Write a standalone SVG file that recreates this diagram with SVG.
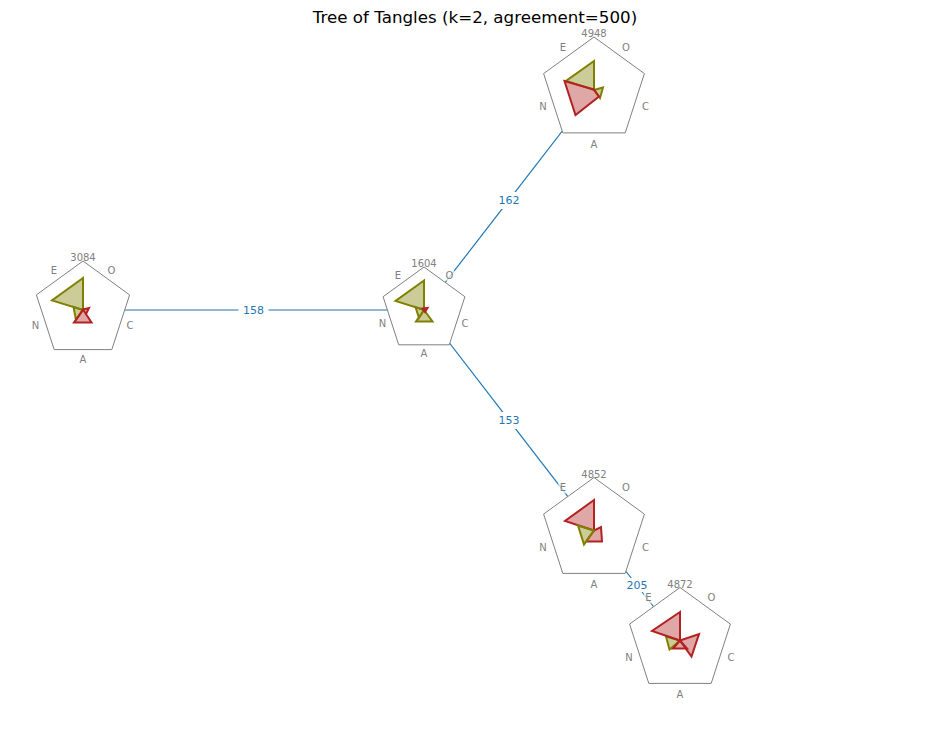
<svg xmlns="http://www.w3.org/2000/svg" width="950" height="733" viewBox="0 0 950 733">
<style>
  .title{font-family:"DejaVu Sans",sans-serif;font-size:16.7px;fill:#000;text-anchor:middle}
  .frame{fill:#fff;stroke:#808080;stroke-width:1}
  .lab{font-family:"DejaVu Sans",sans-serif;font-size:10px;fill:#808080;text-anchor:middle;dominant-baseline:central;stroke:#fff;stroke-opacity:0.7;stroke-width:5;stroke-linejoin:round;paint-order:stroke}
  .num{font-family:"DejaVu Sans",sans-serif;font-size:10px;fill:#808080;text-anchor:middle}
  .g{fill:#808000;fill-opacity:0.4;stroke:#808000;stroke-width:2;stroke-linejoin:miter}
  .r{fill:#b22222;fill-opacity:0.4;stroke:#b22222;stroke-width:2;stroke-linejoin:miter}
  .edge{stroke:#1f77b4;stroke-width:1.2;fill:none}
  .elbl{font-family:"DejaVu Sans",sans-serif;font-size:11px;fill:#1f77b4;text-anchor:middle;dominant-baseline:central}
  .ebox{fill:#fff;stroke:none}
</style>
<rect width="950" height="733" fill="#fff"/>
<text class="title" x="475" y="22.5">Tree of Tangles (k=2, agreement=500)</text>

<g id="connectors">
  <line class="edge" x1="424" y1="310" x2="594" y2="90"/>
  <line class="edge" x1="424" y1="310" x2="83" y2="310"/>
  <line class="edge" x1="424" y1="310" x2="594" y2="530.5"/>
  <line class="edge" x1="594" y1="530.5" x2="680" y2="640.5"/>
</g>

<g id="node-4948">
  <polygon class="frame" points="594,37 543.6,73.6 562.8,132.9 625.2,132.9 644.4,73.6"/>
  <polygon class="g" points="594,61 566,81 594,90"/>
  <polygon class="g" points="594,90 603,87.5 600,98"/>
  <polygon class="r" points="594,89.5 564.5,81 575.5,115 599,96.5"/>
  <text class="num" x="594" y="37">4948</text>
  <text class="lab" x="563" y="47">E</text>
  <text class="lab" x="626" y="47">O</text>
  <text class="lab" x="543" y="106.5">N</text>
  <text class="lab" x="645.5" y="106.5">C</text>
  <text class="lab" x="594" y="144">A</text>
</g>

<g id="node-3084">
  <polygon class="frame" points="83,261 36.4,294.9 54.2,349.6 111.8,349.6 129.6,294.9"/>
  <polygon class="g" points="83,278 52,300.5 83,310"/>
  <polygon class="g" points="83,310 73.5,307 76,320"/>
  <polygon class="r" points="83,309.5 74,322.5 91.5,322.5"/>
  <polyline class="r" fill="none" fill-opacity="0" points="83,309.5 89,308 86,314"/>
  <text class="num" x="83" y="261">3084</text>
  <text class="lab" x="54" y="270.5">E</text>
  <text class="lab" x="111.5" y="270.5">O</text>
  <text class="lab" x="35.5" y="325">N</text>
  <text class="lab" x="130" y="325">C</text>
  <text class="lab" x="83" y="359">A</text>
</g>

<g id="node-1604">
  <polygon class="frame" points="424,267 383.1,296.7 398.7,344.8 449.3,344.8 464.9,296.7"/>
  <polygon class="g" points="424,280.5 395.5,301 424,310"/>
  <polygon class="g" points="424,310 415.5,307 419,318"/>
  <polygon class="g" points="424,310 416,321.5 432.5,321.5"/>
  <polygon class="r" points="422.5,308.5 427.5,308 425,312"/>
  <text class="num" x="424" y="267">1604</text>
  <text class="lab" x="398" y="275.5">E</text>
  <text class="lab" x="449.5" y="275.5">O</text>
  <text class="lab" x="382.5" y="323.5">N</text>
  <text class="lab" x="465" y="323.5">C</text>
  <text class="lab" x="424" y="353.5">A</text>
</g>

<g id="node-4852">
  <polygon class="frame" points="594,477.5 543.6,514.1 562.8,573.4 625.2,573.4 644.4,514.1"/>
  <polygon class="r" points="594,500 565,521 594,530.5"/>
  <polygon class="r" points="594,530.5 586,541.5 602,541.5 601,527"/>
  <polygon class="g" points="594,530.5 578,525.5 584,544.5"/>
  <text class="num" x="594" y="477.5">4852</text>
  <text class="lab" x="563" y="487.5">E</text>
  <text class="lab" x="626" y="487.5">O</text>
  <text class="lab" x="543" y="547">N</text>
  <text class="lab" x="645.5" y="547">C</text>
  <text class="lab" x="594" y="584">A</text>
</g>

<g id="node-4872">
  <polygon class="frame" points="680,587.5 629.6,624.1 648.8,683.4 711.2,683.4 730.4,624.1"/>
  <polygon class="g" points="680,640.5 666,636.5 669.5,649.5"/>
  <polygon class="r" points="680,612 652,631 680,640.5"/>
  <polygon class="r" points="680,640.5 699,634 691.5,656.5"/>
  <polygon class="r" points="680,640.5 673,648.5 687,648.5"/>
  <text class="num" x="680" y="587.5">4872</text>
  <text class="lab" x="648.5" y="597.5">E</text>
  <text class="lab" x="711.5" y="597.5">O</text>
  <text class="lab" x="629" y="657">N</text>
  <text class="lab" x="731" y="657">C</text>
  <text class="lab" x="680" y="694">A</text>
</g>

<g id="edge-labels">
  <rect class="ebox" x="238.5" y="302" width="30" height="17"/>
  <text class="elbl" x="253.5" y="310">158</text>
  <rect class="ebox" x="494" y="192" width="30" height="17"/>
  <text class="elbl" x="509" y="200">162</text>
  <rect class="ebox" x="494" y="412" width="30" height="17"/>
  <text class="elbl" x="509" y="420">153</text>
  <rect class="ebox" x="622" y="578" width="30" height="14"/>
  <text class="elbl" x="637" y="585">205</text>
</g>
</svg>
